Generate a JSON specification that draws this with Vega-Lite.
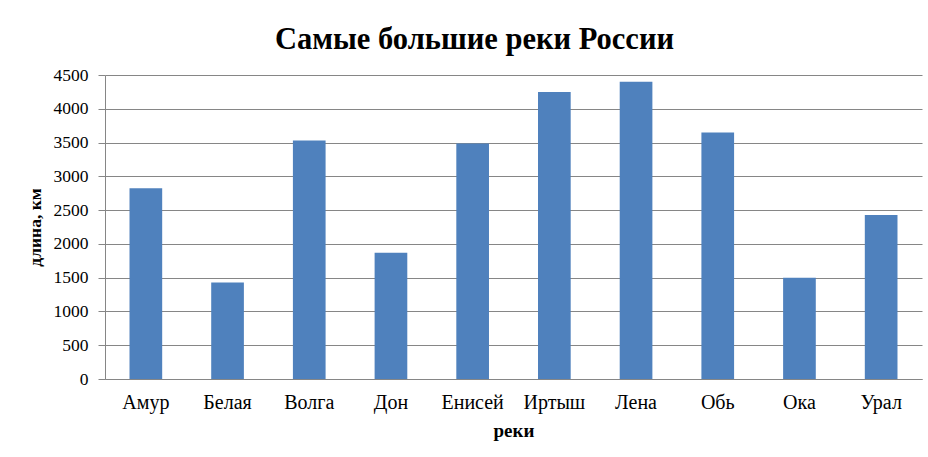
{
  "$schema": "https://vega.github.io/schema/vega-lite/v6.json",
  "autosize": {"type": "none"},
  "width": 817,
  "height": 304,
  "padding": {"left": 105, "top": 75, "right": 6, "bottom": 78},
  "background": "white",
  "title": {
    "text": "Самые большие реки России",
    "font": "Liberation Serif",
    "fontSize": 30.5,
    "fontWeight": "bold",
    "color": "black",
    "anchor": "middle",
    "dx": -39,
    "offset": 11
  },
  "data": {
    "values": [
      {"river": "Амур", "length": 2824},
      {"river": "Белая", "length": 1430},
      {"river": "Волга", "length": 3530},
      {"river": "Дон", "length": 1870},
      {"river": "Енисей", "length": 3487},
      {"river": "Иртыш", "length": 4248},
      {"river": "Лена", "length": 4400},
      {"river": "Обь", "length": 3650},
      {"river": "Ока", "length": 1500},
      {"river": "Урал", "length": 2428}
    ]
  },
  "mark": {"type": "bar", "color": "#4F81BD"},
  "encoding": {
    "x": {
      "field": "river",
      "type": "nominal",
      "sort": null,
      "title": "реки",
      "scale": {"paddingInner": 0.6, "paddingOuter": 0.3},
      "axis": {
        "labelAngle": 0,
        "labelFont": "Liberation Serif",
        "labelFontSize": 20,
        "labelColor": "black",
        "labelPadding": 13,
        "ticks": false,
        "domainColor": "#868686",
        "titleFont": "Liberation Serif",
        "titleFontSize": 19,
        "titleFontWeight": "bold",
        "titleColor": "black",
        "titlePadding": 9
      }
    },
    "y": {
      "field": "length",
      "type": "quantitative",
      "title": "длина, км",
      "scale": {"domain": [0, 4500], "nice": false},
      "axis": {
        "values": [0, 500, 1000, 1500, 2000, 2500, 3000, 3500, 4000, 4500],
        "format": "d",
        "labelFont": "Liberation Serif",
        "labelFontSize": 17.5,
        "labelColor": "black",
        "labelPadding": 10,
        "tickSize": 7,
        "tickColor": "#868686",
        "domainColor": "#868686",
        "gridColor": "#868686",
        "titleFont": "Liberation Serif",
        "titleFontSize": 17.5,
        "titleFontWeight": "bold",
        "titleColor": "black",
        "titlePadding": 9
      }
    }
  },
  "config": {"view": {"stroke": null}}
}
